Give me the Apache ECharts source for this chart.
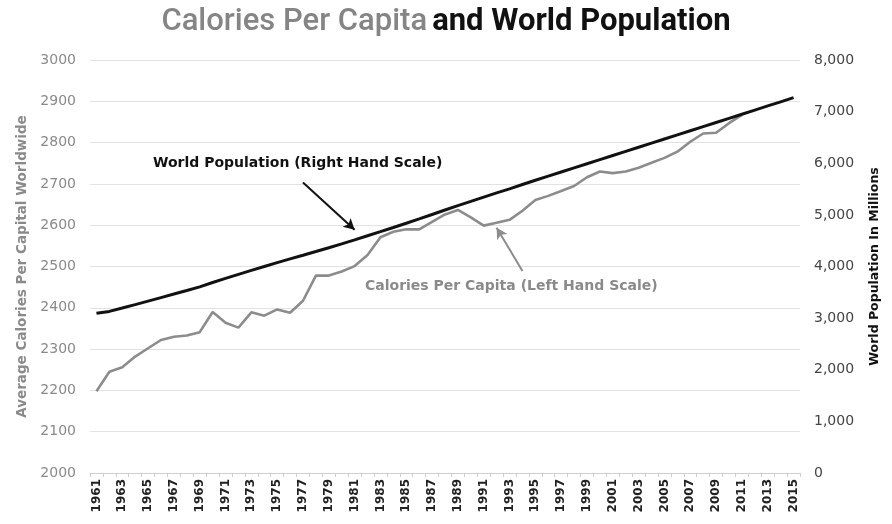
<!DOCTYPE html>
<html><head><meta charset="utf-8">
<script src="https://cdn.jsdelivr.net/npm/echarts@6/dist/echarts.min.js"></script>
<style>html,body{margin:0;padding:0;background:#fff}#c{width:892px;height:524px}</style>
</head><body><div id="c"></div>
<script>
var years = [];
for (var y = 1961; y <= 2015; y++) years.push(String(y));

var calories = [2198,2245,2256,2282,2302,2322,2330,2333,2341,2390,
2364,2352,2389,2381,2396,2388,2417,2478,2478,2488,
2501,2528,2571,2584,2590,2590,2608,2626,2637,2619,
2599,2606,2613,2635,2661,2671,2683,2695,2716,2730,
2726,2730,2739,2751,2763,2778,2802,2822,2824,2847,
2867];

var population = [3095,3130,3195,3262,3330,3398,3466,3535,3606,3690,
3770,3848,3925,4000,4075,4147,4218,4290,4363,4438,
4515,4595,4675,4756,4838,4922,5008,5094,5180,5262,
5345,5425,5505,5588,5670,5750,5830,5910,5990,6070,
6150,6230,6310,6390,6470,6550,6630,6710,6790,6870,
6950,7030,7110,7190,7270];

var leftTicks = {min:2000, max:3000, interval:100};
var rightTicks = {min:0, max:8000, interval:1000};

var chart = echarts.init(document.getElementById('c'), null, {renderer:'canvas'});
chart.setOption({
  animation:false,
  backgroundColor:'#fff',
  title:{
    left:'center', top:2,
    text:'{a|Calories Per Capita} {b|and World Population}',
    textStyle:{
      rich:{
        a:{fontFamily:'Roboto, sans-serif', fontSize:31, fontWeight:500, color:'#858585'},
        b:{fontFamily:'Roboto, sans-serif', fontSize:31, fontWeight:'bold', color:'#111'}
      }
    }
  },
  grid:{left:90, right:92, top:60, bottom:51, containLabel:false},
  xAxis:{
    type:'category', data:years, boundaryGap:true,
    axisLine:{lineStyle:{color:'#cfcfcf'}},
    axisTick:{show:true, interval:0, length:4, lineStyle:{color:'#cfcfcf'}},
    axisLabel:{interval:1, rotate:90, color:'#222', fontWeight:'bold', fontSize:12, fontFamily:'DejaVu Sans', margin:6}
  },
  yAxis:[{
    type:'value', min:leftTicks.min, max:leftTicks.max, interval:leftTicks.interval,
    name:'Average Calories Per Capital Worldwide', nameLocation:'middle', nameGap:58, nameRotate:90,
    nameTextStyle:{color:'#8a8a8a', fontWeight:'bold', fontSize:13.5, fontFamily:'DejaVu Sans'},
    axisLine:{show:false}, axisTick:{show:false},
    axisLabel:{color:'#8a8a8a', fontSize:14, fontFamily:'DejaVu Sans', margin:14,
      formatter:function(v){return String(v);}},
    splitLine:{lineStyle:{color:'#e2e2e2', width:1}}
  },{
    type:'value', min:rightTicks.min, max:rightTicks.max, interval:rightTicks.interval,
    name:'World Population In Millions', nameLocation:'middle', nameGap:68, nameRotate:90,
    nameTextStyle:{color:'#111', fontWeight:'bold', fontSize:12.5, fontFamily:'DejaVu Sans', verticalAlign:'top'},
    axisLine:{show:false}, axisTick:{show:false},
    axisLabel:{color:'#444', fontSize:14, fontFamily:'DejaVu Sans', margin:14,
      formatter:function(v){return v.toLocaleString('en-US');}},
    splitLine:{show:false}
  }],
  series:[{
    name:'Calories Per Capita', type:'line', yAxisIndex:0, data:calories,
    symbol:'none', lineStyle:{color:'#8c8c8c', width:2.6}, z:2,
    markLine:{
      silent:true, symbol:['none','arrow'], symbolSize:[9,11],
      label:{show:false},
      lineStyle:{color:'#8c8c8c', width:2, type:'solid'},
      data:[[{coord:[32.5, 2489]},{coord:[30.6, 2594]}]]
    }
  },{
    name:'World Population', type:'line', yAxisIndex:1, data:population,
    symbol:'none', lineStyle:{color:'#111', width:3}, z:3,
    markLine:{
      silent:true, symbol:['none','arrow'], symbolSize:[9,11],
      label:{show:false},
      lineStyle:{color:'#111', width:2, type:'solid'},
      data:[[{coord:[16, 5625]},{coord:[19.85, 4710]}]]
    }
  }],
  graphic:[{
    type:'text', left:153, top:156,
    style:{text:'World Population (Right Hand Scale)', fill:'#111', font:'bold 14px "DejaVu Sans"'}
  },{
    type:'text', left:365, top:279,
    style:{text:'Calories Per Capita (Left Hand Scale)', fill:'#8a8a8a', font:'bold 14px "DejaVu Sans"'}
  }]
});
</script></body></html>
